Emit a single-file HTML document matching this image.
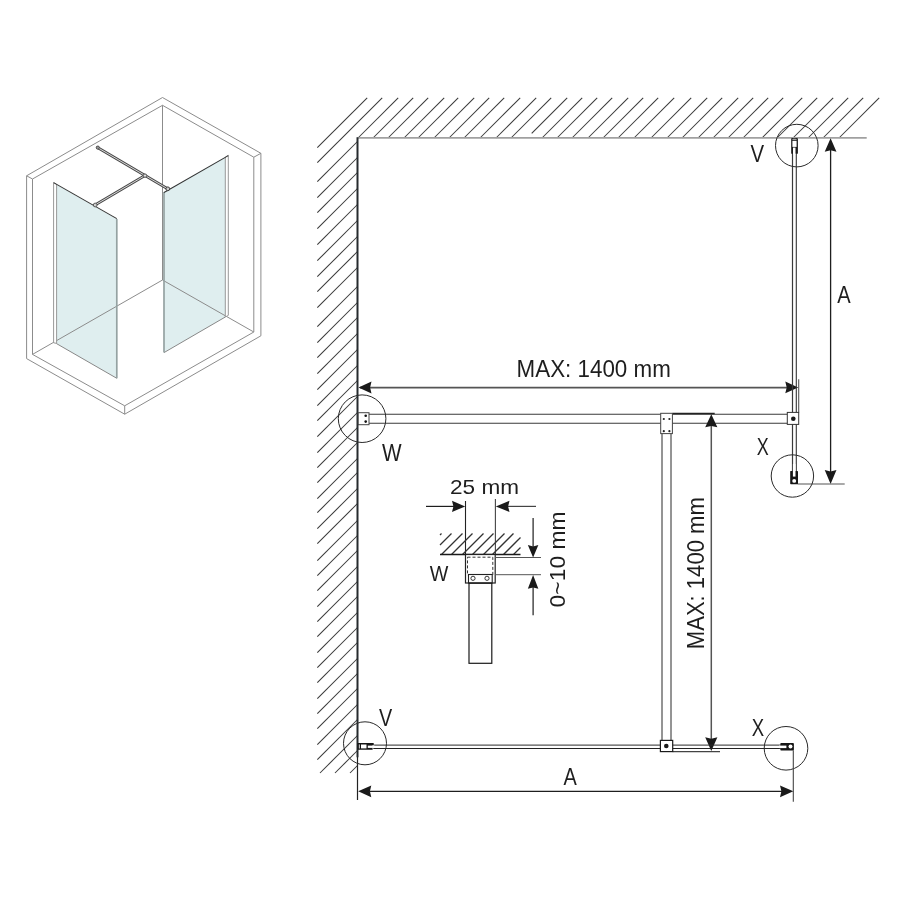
<!DOCTYPE html>
<html><head><meta charset="utf-8"><style>
html,body{margin:0;padding:0;background:#fff;width:900px;height:900px;overflow:hidden}
svg{display:block;will-change:transform}
text{font-family:"Liberation Sans",sans-serif;fill:#1e1e1e}
</style></head><body>
<svg width="900" height="900" viewBox="0 0 900 900">
<rect width="900" height="900" fill="#fff"/>
<polygon points="56.50,184.50 116.80,219.00 116.80,378.30 56.50,343.60" fill="#dfeeef" stroke="none" stroke-width="1" />
<polygon points="164.00,192.00 225.30,157.00 225.30,317.00 164.00,352.60" fill="#dfeeef" stroke="none" stroke-width="1" />
<polygon points="26.60,175.80 162.50,97.50 260.90,153.30 260.90,335.80 124.70,414.20 26.60,358.60" fill="none" stroke="#8c8c8c" stroke-width="1" />
<polyline points="32.50,179.00 162.50,105.30 253.80,157.20 253.80,332.00 124.70,405.80 32.50,354.40 32.50,179.00" fill="none" stroke="#8c8c8c" stroke-width="1" />
<line x1="26.60" y1="175.80" x2="32.50" y2="179.00" stroke="#8c8c8c" stroke-width="1" />
<line x1="260.90" y1="153.30" x2="253.80" y2="157.20" stroke="#8c8c8c" stroke-width="1" />
<line x1="124.70" y1="414.20" x2="124.70" y2="405.80" stroke="#8c8c8c" stroke-width="1" />
<line x1="162.50" y1="105.30" x2="162.50" y2="280.00" stroke="#8c8c8c" stroke-width="1" />
<line x1="162.50" y1="280.00" x2="32.50" y2="354.40" stroke="#8c8c8c" stroke-width="1" />
<line x1="162.50" y1="280.00" x2="253.80" y2="332.00" stroke="#8c8c8c" stroke-width="1" />
<polygon points="53.60,182.60 56.60,184.40 56.60,343.40 53.60,342.80" fill="#fff" stroke="#8c8c8c" stroke-width="0.9" />
<line x1="56.50" y1="343.60" x2="116.80" y2="378.30" stroke="#888" stroke-width="1" />
<line x1="116.80" y1="219.00" x2="116.80" y2="378.30" stroke="#95a2a2" stroke-width="1.7" />
<line x1="53.60" y1="182.60" x2="116.80" y2="218.60" stroke="#333" stroke-width="1.05" />
<polygon points="225.30,157.00 228.30,155.30 228.30,315.40 225.30,317.00" fill="#fff" stroke="#8c8c8c" stroke-width="0.9" />
<line x1="164.00" y1="352.60" x2="225.30" y2="317.00" stroke="#888" stroke-width="1" />
<line x1="164.00" y1="192.00" x2="164.00" y2="352.60" stroke="#95a2a2" stroke-width="1.7" />
<line x1="164.00" y1="192.50" x2="228.30" y2="155.60" stroke="#333" stroke-width="1.05" />
<line x1="97.50" y1="147.50" x2="168.00" y2="189.00" stroke="#4a4a4a" stroke-width="2.7" stroke-linecap="round"/>
<line x1="97.50" y1="147.50" x2="168.00" y2="189.00" stroke="#e8e8e8" stroke-width="0.9" />
<line x1="145.00" y1="175.50" x2="95.00" y2="205.00" stroke="#4a4a4a" stroke-width="2.7" stroke-linecap="round"/>
<line x1="145.00" y1="175.50" x2="95.00" y2="205.00" stroke="#e8e8e8" stroke-width="0.9" />
<circle cx="97.80" cy="147.60" r="1.60" fill="#999" stroke="#444" stroke-width="0.8"/>
<circle cx="145.00" cy="175.60" r="1.70" fill="#ddd" stroke="#444" stroke-width="0.8"/>
<circle cx="95.20" cy="205.00" r="1.90" fill="#ccc" stroke="#444" stroke-width="0.8"/>
<circle cx="167.80" cy="188.80" r="1.90" fill="#ccc" stroke="#333" stroke-width="0.9"/>
<line x1="367.20" y1="97.80" x2="317.30" y2="147.70" stroke="#3a3a3a" stroke-width="1.05" />
<line x1="382.20" y1="97.80" x2="317.30" y2="162.70" stroke="#3a3a3a" stroke-width="1.05" />
<line x1="398.20" y1="97.80" x2="358.00" y2="138.00" stroke="#3a3a3a" stroke-width="1.05" />
<line x1="413.20" y1="97.80" x2="373.00" y2="138.00" stroke="#3a3a3a" stroke-width="1.05" />
<line x1="428.20" y1="97.80" x2="388.00" y2="138.00" stroke="#3a3a3a" stroke-width="1.05" />
<line x1="444.20" y1="97.80" x2="404.00" y2="138.00" stroke="#3a3a3a" stroke-width="1.05" />
<line x1="458.20" y1="97.80" x2="418.00" y2="138.00" stroke="#3a3a3a" stroke-width="1.05" />
<line x1="474.20" y1="97.80" x2="434.00" y2="138.00" stroke="#3a3a3a" stroke-width="1.05" />
<line x1="489.20" y1="97.80" x2="449.00" y2="138.00" stroke="#3a3a3a" stroke-width="1.05" />
<line x1="504.20" y1="97.80" x2="464.00" y2="138.00" stroke="#3a3a3a" stroke-width="1.05" />
<line x1="520.20" y1="97.80" x2="480.00" y2="138.00" stroke="#3a3a3a" stroke-width="1.05" />
<line x1="536.20" y1="97.80" x2="496.00" y2="138.00" stroke="#3a3a3a" stroke-width="1.05" />
<line x1="551.20" y1="97.80" x2="511.00" y2="138.00" stroke="#3a3a3a" stroke-width="1.05" />
<line x1="567.20" y1="97.80" x2="531.70" y2="133.30" stroke="#3a3a3a" stroke-width="1.05" />
<line x1="582.20" y1="97.80" x2="542.00" y2="138.00" stroke="#3a3a3a" stroke-width="1.05" />
<line x1="597.20" y1="97.80" x2="557.00" y2="138.00" stroke="#3a3a3a" stroke-width="1.05" />
<line x1="612.20" y1="97.80" x2="572.00" y2="138.00" stroke="#3a3a3a" stroke-width="1.05" />
<line x1="628.20" y1="97.80" x2="588.00" y2="138.00" stroke="#3a3a3a" stroke-width="1.05" />
<line x1="643.20" y1="97.80" x2="603.00" y2="138.00" stroke="#3a3a3a" stroke-width="1.05" />
<line x1="658.20" y1="97.80" x2="618.00" y2="138.00" stroke="#3a3a3a" stroke-width="1.05" />
<line x1="674.20" y1="97.80" x2="634.00" y2="138.00" stroke="#3a3a3a" stroke-width="1.05" />
<line x1="691.20" y1="97.80" x2="651.00" y2="138.00" stroke="#3a3a3a" stroke-width="1.05" />
<line x1="707.20" y1="97.80" x2="667.00" y2="138.00" stroke="#3a3a3a" stroke-width="1.05" />
<line x1="722.20" y1="97.80" x2="682.00" y2="138.00" stroke="#3a3a3a" stroke-width="1.05" />
<line x1="738.20" y1="97.80" x2="698.00" y2="138.00" stroke="#3a3a3a" stroke-width="1.05" />
<line x1="753.20" y1="97.80" x2="713.00" y2="138.00" stroke="#3a3a3a" stroke-width="1.05" />
<line x1="768.20" y1="97.80" x2="728.00" y2="138.00" stroke="#3a3a3a" stroke-width="1.05" />
<line x1="783.20" y1="97.80" x2="743.00" y2="138.00" stroke="#3a3a3a" stroke-width="1.05" />
<line x1="802.20" y1="97.80" x2="762.00" y2="138.00" stroke="#3a3a3a" stroke-width="1.05" />
<line x1="817.20" y1="97.80" x2="777.00" y2="138.00" stroke="#3a3a3a" stroke-width="1.05" />
<line x1="833.20" y1="97.80" x2="793.00" y2="138.00" stroke="#3a3a3a" stroke-width="1.05" />
<line x1="848.20" y1="97.80" x2="808.00" y2="138.00" stroke="#3a3a3a" stroke-width="1.05" />
<line x1="863.20" y1="97.80" x2="823.00" y2="138.00" stroke="#3a3a3a" stroke-width="1.05" />
<line x1="879.20" y1="97.80" x2="839.00" y2="138.00" stroke="#3a3a3a" stroke-width="1.05" />
<line x1="317.30" y1="181.70" x2="357.50" y2="141.50" stroke="#3a3a3a" stroke-width="1.05" />
<line x1="317.30" y1="197.70" x2="357.50" y2="157.50" stroke="#3a3a3a" stroke-width="1.05" />
<line x1="317.30" y1="212.70" x2="357.50" y2="172.50" stroke="#3a3a3a" stroke-width="1.05" />
<line x1="317.30" y1="228.70" x2="357.50" y2="188.50" stroke="#3a3a3a" stroke-width="1.05" />
<line x1="317.30" y1="244.70" x2="357.50" y2="204.50" stroke="#3a3a3a" stroke-width="1.05" />
<line x1="317.30" y1="260.70" x2="357.50" y2="220.50" stroke="#3a3a3a" stroke-width="1.05" />
<line x1="317.30" y1="276.70" x2="357.50" y2="236.50" stroke="#3a3a3a" stroke-width="1.05" />
<line x1="317.30" y1="291.70" x2="357.50" y2="251.50" stroke="#3a3a3a" stroke-width="1.05" />
<line x1="317.30" y1="307.70" x2="357.50" y2="267.50" stroke="#3a3a3a" stroke-width="1.05" />
<line x1="317.30" y1="326.70" x2="357.50" y2="286.50" stroke="#3a3a3a" stroke-width="1.05" />
<line x1="317.30" y1="342.70" x2="357.50" y2="302.50" stroke="#3a3a3a" stroke-width="1.05" />
<line x1="317.30" y1="357.70" x2="357.50" y2="317.50" stroke="#3a3a3a" stroke-width="1.05" />
<line x1="317.30" y1="373.70" x2="357.50" y2="333.50" stroke="#3a3a3a" stroke-width="1.05" />
<line x1="317.30" y1="389.70" x2="357.50" y2="349.50" stroke="#3a3a3a" stroke-width="1.05" />
<line x1="317.30" y1="405.70" x2="357.50" y2="365.50" stroke="#3a3a3a" stroke-width="1.05" />
<line x1="317.30" y1="420.70" x2="357.50" y2="380.50" stroke="#3a3a3a" stroke-width="1.05" />
<line x1="317.30" y1="436.70" x2="357.50" y2="396.50" stroke="#3a3a3a" stroke-width="1.05" />
<line x1="317.30" y1="452.70" x2="357.50" y2="412.50" stroke="#3a3a3a" stroke-width="1.05" />
<line x1="317.30" y1="467.70" x2="357.50" y2="427.50" stroke="#3a3a3a" stroke-width="1.05" />
<line x1="317.30" y1="482.70" x2="357.50" y2="442.50" stroke="#3a3a3a" stroke-width="1.05" />
<line x1="317.30" y1="498.70" x2="357.50" y2="458.50" stroke="#3a3a3a" stroke-width="1.05" />
<line x1="317.30" y1="512.70" x2="357.50" y2="472.50" stroke="#3a3a3a" stroke-width="1.05" />
<line x1="317.30" y1="528.70" x2="357.50" y2="488.50" stroke="#3a3a3a" stroke-width="1.05" />
<line x1="317.30" y1="543.70" x2="357.50" y2="503.50" stroke="#3a3a3a" stroke-width="1.05" />
<line x1="317.30" y1="560.70" x2="357.50" y2="520.50" stroke="#3a3a3a" stroke-width="1.05" />
<line x1="317.30" y1="575.70" x2="357.50" y2="535.50" stroke="#3a3a3a" stroke-width="1.05" />
<line x1="317.30" y1="590.70" x2="357.50" y2="550.50" stroke="#3a3a3a" stroke-width="1.05" />
<line x1="317.30" y1="606.70" x2="357.50" y2="566.50" stroke="#3a3a3a" stroke-width="1.05" />
<line x1="317.30" y1="621.70" x2="357.50" y2="581.50" stroke="#3a3a3a" stroke-width="1.05" />
<line x1="317.30" y1="636.70" x2="357.50" y2="596.50" stroke="#3a3a3a" stroke-width="1.05" />
<line x1="317.30" y1="652.70" x2="357.50" y2="612.50" stroke="#3a3a3a" stroke-width="1.05" />
<line x1="317.30" y1="667.70" x2="357.50" y2="627.50" stroke="#3a3a3a" stroke-width="1.05" />
<line x1="317.30" y1="682.70" x2="357.50" y2="642.50" stroke="#3a3a3a" stroke-width="1.05" />
<line x1="317.30" y1="698.70" x2="357.50" y2="658.50" stroke="#3a3a3a" stroke-width="1.05" />
<line x1="317.30" y1="713.70" x2="357.50" y2="673.50" stroke="#3a3a3a" stroke-width="1.05" />
<line x1="317.30" y1="728.70" x2="357.50" y2="688.50" stroke="#3a3a3a" stroke-width="1.05" />
<line x1="317.30" y1="744.70" x2="357.50" y2="704.50" stroke="#3a3a3a" stroke-width="1.05" />
<line x1="317.30" y1="759.70" x2="357.50" y2="719.50" stroke="#3a3a3a" stroke-width="1.05" />
<line x1="320.00" y1="773.00" x2="357.50" y2="735.50" stroke="#3a3a3a" stroke-width="1.05" />
<line x1="335.00" y1="773.00" x2="357.50" y2="750.50" stroke="#3a3a3a" stroke-width="1.05" />
<line x1="350.00" y1="773.00" x2="357.50" y2="765.50" stroke="#3a3a3a" stroke-width="1.05" />
<line x1="357.50" y1="137.80" x2="866.70" y2="137.80" stroke="#a0a0a0" stroke-width="1.7" />
<line x1="357.50" y1="137.30" x2="357.50" y2="757.30" stroke="#262b2e" stroke-width="2.0" />
<line x1="357.50" y1="757.00" x2="357.50" y2="800.00" stroke="#222" stroke-width="1.2" />
<line x1="360.00" y1="387.60" x2="790.00" y2="387.60" stroke="#555" stroke-width="1.6" />
<polygon points="358.50,387.50 371.50,381.62 370.10,387.50 371.50,393.38" fill="#1a1a1a" stroke="none" stroke-width="1" />
<polygon points="798.20,387.40 785.30,393.28 786.70,387.40 785.30,381.52" fill="#1a1a1a" stroke="none" stroke-width="1" />
<line x1="798.70" y1="379.30" x2="798.70" y2="412.40" stroke="#555" stroke-width="1.1" />
<text x="516.6" y="376.7" font-size="23.6" textLength="154.2" lengthAdjust="spacingAndGlyphs" text-anchor="start" >MAX: 1400 mm</text>
<line x1="792.50" y1="138.00" x2="792.50" y2="471.50" stroke="#3a3a3a" stroke-width="1.2" />
<line x1="796.30" y1="138.00" x2="796.30" y2="471.50" stroke="#333" stroke-width="1.1" />
<rect x="791.20" y="138.30" width="6.70" height="15.40" fill="#1a1a1a" stroke="none" stroke-width="1" />
<rect x="792.40" y="140.80" width="4.20" height="6.10" fill="#fff" stroke="none" stroke-width="1" />
<rect x="792.40" y="139.20" width="4.20" height="0.70" fill="#ddd" stroke="none" stroke-width="1" />
<rect x="793.00" y="147.60" width="2.50" height="6.90" fill="#fff" stroke="none" stroke-width="1" />
<circle cx="796.80" cy="145.60" r="21.30" fill="none" stroke="#2a2a2a" stroke-width="1.0"/>
<text x="750.6" y="161.7" font-size="23.3" textLength="13.6" lengthAdjust="spacingAndGlyphs" text-anchor="start" >V</text>
<line x1="830.60" y1="150.00" x2="830.60" y2="472.00" stroke="#1e1e1e" stroke-width="1.3" />
<polygon points="830.60,138.20 836.48,151.70 830.60,150.30 824.72,151.70" fill="#1a1a1a" stroke="none" stroke-width="1" />
<polygon points="830.60,484.00 824.72,470.00 830.60,471.40 836.48,470.00" fill="#1a1a1a" stroke="none" stroke-width="1" />
<line x1="797.60" y1="484.00" x2="844.70" y2="484.00" stroke="#555" stroke-width="1.1" />
<text x="837.2" y="303.3" font-size="23.3" textLength="13.4" lengthAdjust="spacingAndGlyphs" text-anchor="start" >A</text>
<line x1="369.00" y1="414.30" x2="787.30" y2="414.30" stroke="#3a3a3a" stroke-width="1.1" />
<line x1="369.00" y1="423.30" x2="787.30" y2="423.30" stroke="#3a3a3a" stroke-width="1.1" />
<rect x="787.30" y="412.40" width="11.40" height="12.00" fill="#fff" stroke="#333" stroke-width="1.0" />
<circle cx="793.30" cy="418.70" r="2.30" fill="#1a1a1a" stroke="none" stroke-width="1"/>
<text x="756.8" y="455.0" font-size="23.5" textLength="12.0" lengthAdjust="spacingAndGlyphs" text-anchor="start" >X</text>
<circle cx="792.40" cy="476.00" r="21.20" fill="none" stroke="#2a2a2a" stroke-width="1.0"/>
<rect x="790.20" y="470.90" width="7.80" height="13.30" fill="#151515" stroke="none" stroke-width="1" rx="0.6"/>
<rect x="792.90" y="464.00" width="2.60" height="12.60" fill="#fff" stroke="none" stroke-width="1" />
<circle cx="794.20" cy="480.90" r="1.95" fill="#fff" stroke="none" stroke-width="1"/>
<rect x="358.20" y="412.70" width="10.80" height="12.00" fill="#fff" stroke="#444" stroke-width="1.0" />
<circle cx="365.70" cy="415.70" r="1.30" fill="#111" stroke="none" stroke-width="1"/>
<circle cx="365.70" cy="421.60" r="1.30" fill="#111" stroke="none" stroke-width="1"/>
<circle cx="362.10" cy="418.70" r="23.80" fill="none" stroke="#2a2a2a" stroke-width="1.0"/>
<text x="382.0" y="461.0" font-size="23.5" textLength="19.6" lengthAdjust="spacingAndGlyphs" text-anchor="start" >W</text>
<line x1="662.00" y1="433.60" x2="662.00" y2="740.40" stroke="#2a2a2a" stroke-width="1.0" />
<line x1="671.00" y1="433.60" x2="671.00" y2="740.40" stroke="#2a2a2a" stroke-width="1.0" />
<rect x="660.70" y="413.30" width="11.70" height="20.30" fill="#fff" stroke="#444" stroke-width="1.0" />
<circle cx="663.80" cy="419.00" r="1.10" fill="#222" stroke="none" stroke-width="1"/>
<circle cx="669.40" cy="419.00" r="1.10" fill="#222" stroke="none" stroke-width="1"/>
<circle cx="663.80" cy="431.20" r="1.10" fill="#222" stroke="none" stroke-width="1"/>
<circle cx="669.40" cy="431.20" r="1.10" fill="#222" stroke="none" stroke-width="1"/>
<line x1="672.70" y1="413.50" x2="714.70" y2="413.50" stroke="#222" stroke-width="1.3" />
<line x1="711.30" y1="426.00" x2="711.30" y2="739.00" stroke="#555" stroke-width="1.5" />
<polygon points="711.30,414.20 717.39,427.30 711.30,425.90 705.21,427.30" fill="#1a1a1a" stroke="none" stroke-width="1" />
<polygon points="711.30,751.00 705.21,737.30 711.30,738.70 717.39,737.30" fill="#1a1a1a" stroke="none" stroke-width="1" />
<line x1="672.70" y1="751.60" x2="720.00" y2="751.60" stroke="#444" stroke-width="1.1" />
<text x="0" y="0" font-size="23.8" textLength="152" lengthAdjust="spacingAndGlyphs" text-anchor="start" transform="translate(703.8,649.2) rotate(-90)">MAX: 1400 mm</text>
<line x1="373.30" y1="745.10" x2="780.70" y2="745.10" stroke="#2a2a2a" stroke-width="1.0" />
<line x1="373.30" y1="748.50" x2="780.70" y2="748.50" stroke="#222" stroke-width="1.1" />
<rect x="660.40" y="740.40" width="12.30" height="11.20" fill="#fff" stroke="#1a1a1a" stroke-width="1.2" />
<circle cx="666.30" cy="746.00" r="2.30" fill="#1a1a1a" stroke="none" stroke-width="1"/>
<polygon points="357.60,743.10 373.70,743.10 373.70,745.00 372.60,745.00 372.60,749.70 357.60,749.70" fill="#151515" stroke="none" stroke-width="1" />
<rect x="358.80" y="744.40" width="1.20" height="4.10" fill="#bbb" stroke="none" stroke-width="1" />
<rect x="361.00" y="744.50" width="5.50" height="3.90" fill="#fff" stroke="none" stroke-width="1" />
<rect x="367.80" y="745.60" width="6.70" height="2.30" fill="#fff" stroke="none" stroke-width="1" />
<circle cx="365.00" cy="743.30" r="21.50" fill="none" stroke="#2a2a2a" stroke-width="1.0"/>
<text x="379.0" y="726.3" font-size="23.3" textLength="13.2" lengthAdjust="spacingAndGlyphs" text-anchor="start" >V</text>
<rect x="780.30" y="743.10" width="13.60" height="7.30" fill="#151515" stroke="none" stroke-width="1" rx="0.9"/>
<rect x="779.00" y="745.60" width="7.40" height="2.50" fill="#fff" stroke="none" stroke-width="1" />
<circle cx="790.50" cy="746.60" r="2.00" fill="#fff" stroke="none" stroke-width="1"/>
<circle cx="786.00" cy="748.30" r="21.80" fill="none" stroke="#2a2a2a" stroke-width="1.0"/>
<text x="751.8" y="735.6" font-size="23.5" textLength="12.4" lengthAdjust="spacingAndGlyphs" text-anchor="start" >X</text>
<line x1="793.30" y1="750.30" x2="793.30" y2="801.70" stroke="#444" stroke-width="1.1" />
<line x1="370.00" y1="791.30" x2="782.00" y2="791.30" stroke="#1e1e1e" stroke-width="1.3" />
<polygon points="358.20,791.30 371.30,785.42 369.90,791.30 371.30,797.18" fill="#1a1a1a" stroke="none" stroke-width="1" />
<polygon points="793.30,791.30 780.00,797.18 781.40,791.30 780.00,785.42" fill="#1a1a1a" stroke="none" stroke-width="1" />
<text x="563.6" y="784.8" font-size="23.3" textLength="13.3" lengthAdjust="spacingAndGlyphs" text-anchor="start" >A</text>
<text x="450" y="493.6" font-size="20.6" textLength="69" lengthAdjust="spacingAndGlyphs" text-anchor="start" >25 mm</text>
<line x1="465.50" y1="501.00" x2="465.50" y2="554.50" stroke="#222" stroke-width="1.1" />
<line x1="495.40" y1="499.00" x2="495.40" y2="554.50" stroke="#444" stroke-width="1.1" />
<line x1="426.00" y1="506.40" x2="455.00" y2="506.40" stroke="#1e1e1e" stroke-width="1.2" />
<polygon points="465.20,506.40 452.00,511.96 453.40,506.40 452.00,500.83" fill="#1a1a1a" stroke="none" stroke-width="1" />
<line x1="505.00" y1="506.40" x2="536.00" y2="506.40" stroke="#444" stroke-width="1.2" />
<polygon points="495.80,506.40 509.50,500.83 508.10,506.40 509.50,511.96" fill="#1a1a1a" stroke="none" stroke-width="1" />
<line x1="441.50" y1="533.50" x2="440.00" y2="535.00" stroke="#333" stroke-width="1.3" />
<line x1="451.50" y1="533.50" x2="440.00" y2="545.00" stroke="#333" stroke-width="1.3" />
<line x1="462.50" y1="533.50" x2="441.50" y2="554.50" stroke="#333" stroke-width="1.3" />
<line x1="472.50" y1="533.50" x2="451.50" y2="554.50" stroke="#333" stroke-width="1.3" />
<line x1="483.50" y1="533.50" x2="462.50" y2="554.50" stroke="#333" stroke-width="1.3" />
<line x1="493.50" y1="533.50" x2="472.50" y2="554.50" stroke="#333" stroke-width="1.3" />
<line x1="504.50" y1="533.50" x2="483.50" y2="554.50" stroke="#333" stroke-width="1.3" />
<line x1="513.50" y1="533.50" x2="492.50" y2="554.50" stroke="#333" stroke-width="1.3" />
<line x1="520.50" y1="537.50" x2="503.50" y2="554.50" stroke="#333" stroke-width="1.3" />
<line x1="520.50" y1="547.50" x2="513.50" y2="554.50" stroke="#333" stroke-width="1.3" />
<line x1="440.00" y1="554.50" x2="520.50" y2="554.50" stroke="#1a1a1a" stroke-width="1.3" />
<rect x="465.50" y="554.50" width="29.70" height="28.50" fill="#fff" stroke="#222" stroke-width="1.2" />
<rect x="467.50" y="557.20" width="25.30" height="17.80" fill="none" stroke="#333" stroke-width="1.0" stroke-dasharray="3,2"/>
<rect x="468.50" y="574.50" width="23.70" height="8.50" fill="#fff" stroke="#222" stroke-width="1.1" />
<circle cx="473.00" cy="578.30" r="2.10" fill="#fff" stroke="#222" stroke-width="0.9"/>
<circle cx="487.00" cy="578.30" r="2.10" fill="#fff" stroke="#222" stroke-width="0.9"/>
<line x1="495.20" y1="557.50" x2="541.00" y2="557.50" stroke="#555" stroke-width="1.0" />
<line x1="495.20" y1="574.70" x2="541.00" y2="574.70" stroke="#555" stroke-width="1.0" />
<rect x="469.00" y="583.00" width="22.80" height="80.30" fill="none" stroke="#1a1a1a" stroke-width="1.2" />
<line x1="533.10" y1="518.00" x2="533.10" y2="548.00" stroke="#1e1e1e" stroke-width="1.2" />
<polygon points="533.10,557.40 527.85,545.00 533.10,546.40 538.35,545.00" fill="#1a1a1a" stroke="none" stroke-width="1" />
<line x1="533.10" y1="585.00" x2="533.10" y2="615.30" stroke="#1e1e1e" stroke-width="1.2" />
<polygon points="533.10,575.00 538.35,588.80 533.10,587.40 527.85,588.80" fill="#1a1a1a" stroke="none" stroke-width="1" />
<text x="0" y="0" font-size="22.0" textLength="96" lengthAdjust="spacingAndGlyphs" text-anchor="start" transform="translate(564.7,607.4) rotate(-90)">0~10 mm</text>
<text x="429.8" y="581.0" font-size="21.5" textLength="18.6" lengthAdjust="spacingAndGlyphs" text-anchor="start" >W</text>
</svg></body></html>
